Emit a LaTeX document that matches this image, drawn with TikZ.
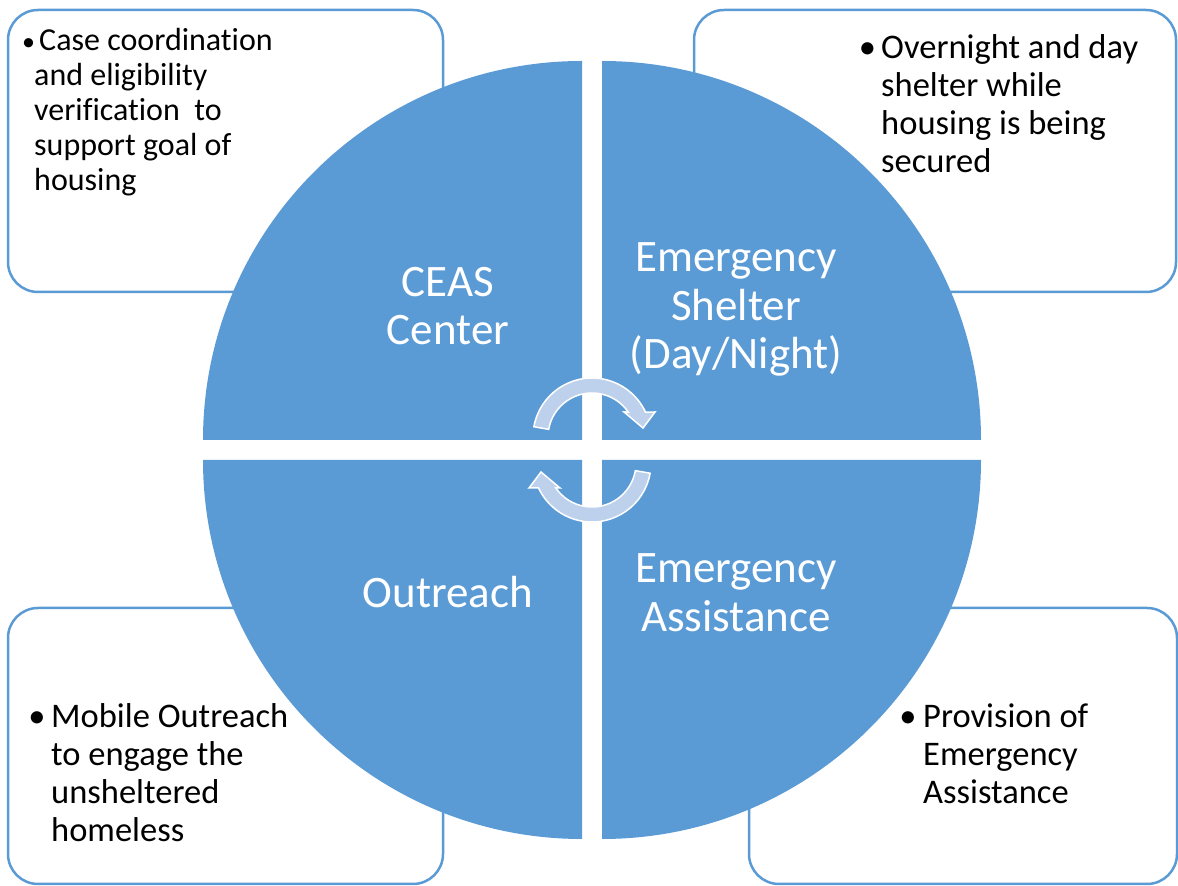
\documentclass[tikz,border=0pt]{standalone}
\usepackage{fontspec}
\setmainfont[Ligatures=NoCommon]{Carlito}
\usetikzlibrary{calc}

\definecolor{pieblue}{RGB}{91,155,213}
\definecolor{arrowblue}{RGB}{189,209,236}

\begin{document}
\begin{tikzpicture}[x=1pt,y=1pt,
	quad/.style={fill=pieblue},
	infobox/.style={draw=pieblue,line width=2.5pt,fill=white,rounded corners=30pt},
	bigtext/.style={text=white,align=center,inner sep=0pt,anchor=base,font=\fontsize{45}{48.5}\selectfont},
	boxtext/.style={align=left,inner sep=0pt,anchor=base west,font=\fontsize{34.5}{38}\selectfont},
	bul/.style={inner sep=0pt,anchor=base,font=\fontsize{34.5}{38}\selectfont},
	cycarrow/.style={fill=arrowblue,draw=white,line width=1.5pt,line join=miter}]
	\useasboundingbox (0,0) rectangle (1178,886);
	\clip (0,0) rectangle (1178,886);

	\coordinate (C) at (592,436);% middle of the circle

	% boxes behind the circle
	\draw[infobox] (8,876) rectangle (443,594);
	\draw[infobox] (694,876) rectangle (1176,594);
	\draw[infobox] (8,278) rectangle (443,2);
	\draw[infobox] (749,278) rectangle (1177,2);

	% four quarters, pulled apart
	\foreach \a in {0,90,180,270}
		\fill[quad] ($(C)+(\a+45:14.14)$) -- ++(\a:379) arc[start angle=\a,end angle=\a+90,radius=379] -- cycle;

	% the two turning arrows
	\foreach \r in {0,180}{
		\begin{scope}[rotate around={\r:(C)}]
			\coordinate (A) at ($(C)+(0,13)$);
			\draw[cycarrow] ($(A)+(170:59)$) arc[start angle=170,end angle=25,radius=59]
				-- ($(A)+(63,25)$) -- ($(A)+(51,9)$) -- ($(A)+(32,25)$)
				-- ($(A)+(34.6:44)$) arc[start angle=34.6,end angle=170,radius=44] -- cycle;
		\end{scope}
	}

	% quarter labels (base = last line)
	\node[bigtext] (ceas) at (448,541) {CEAS\\Center};
	\node[bigtext] (shelter) at (736,517) {Emergency\\Shelter\\(Day/Night)};
	\node[bigtext] (outreach) at (448,278) {Outreach};
	\node[bigtext] (assist) at (736,254.5) {Emergency\\Assistance};

	% box texts (base = last line)
	\node[bul,font=\fontsize{26}{35}\selectfont] (bceas) at (28.5,835) {•};
	\node[boxtext,font=\fontsize{32}{35}\selectfont] (tceas) at (34,695)
		{\hspace*{5pt}Case coordination\\and eligibility\\verification\ \ to\\support goal of\\housing};
	\node[bul] (bshelter) at (867.5,827) {•};
	\node[boxtext] (tshelter) at (881,713) {Overnight and day\\shelter while\\housing is being\\secured};
	\node[bul] (boutreach) at (37,158) {•};
	\node[boxtext] (toutreach) at (51,44) {Mobile Outreach\\to engage the\\unsheltered\\homeless};
	\node[bul] (bassist) at (908,158) {•};
	\node[boxtext] (tassist) at (923,82) {Provision of\\Emergency\\Assistance};
\end{tikzpicture}
\end{document}
